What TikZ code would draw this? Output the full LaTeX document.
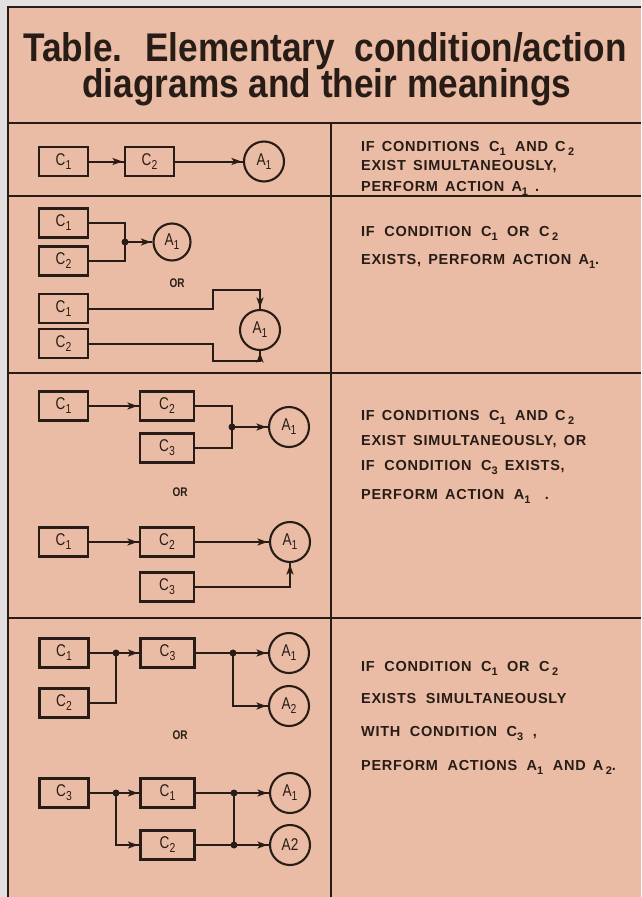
\documentclass[tikz,border=0pt]{standalone}
\usepackage{fontspec}
\setmainfont{Liberation Sans}
\newfontfamily\titlefont[FakeStretch=0.88]{Liberation Sans}
\newfontfamily\descfont[LetterSpace=5,WordSpace=1.5]{Liberation Sans}
\newfontfamily\labfont[FakeStretch=0.8]{Liberation Sans}
\usetikzlibrary{arrows.meta,decorations.markings}
\definecolor{peach}{RGB}{234,188,165}
\definecolor{ink}{RGB}{40,28,22}
\definecolor{paper}{RGB}{226,224,224}
\newcommand\bsub[1]{\raisebox{-4pt}{\fontsize{13}{13}\selectfont #1}}
\newcommand\dsub[1]{\raisebox{-4pt}{\fontsize{11}{11}\selectfont #1}}
\tikzset{
  cbox/.style={draw=ink, line width=2.1pt, minimum width=49pt, minimum height=29pt, inner sep=0pt, text=ink, font=\labfont\fontsize{17}{17}\selectfont},
  widebox/.style={cbox, minimum width=54pt},
  act/.style={circle, draw=ink, line width=2.1pt, minimum size=40pt, inner sep=0pt, text=ink, font=\labfont\fontsize{17}{17}\selectfont},
  wire/.style={draw=ink, line width=2pt},
  arr/.style={wire, postaction={decorate}, decoration={markings, mark=at position -1.5pt with {\arrow[ink]{Stealth[length=10pt,width=7pt,inset=2.5pt]}}}},
  jdot/.style={circle, fill=ink, inner sep=0pt, minimum size=7pt},
  rule/.style={draw=ink, line width=1.8pt},
  desc/.style={anchor=base west, inner sep=0pt, text=ink, font=\descfont\bfseries\fontsize{14.5}{14.5}\selectfont},
  orlab/.style={inner sep=0pt, text=ink, font=\labfont\bfseries\fontsize{12.5}{12.5}\selectfont},
  ttl/.style={anchor=base, inner sep=0pt, text=ink, font=\titlefont\bfseries\fontsize{40}{40}\selectfont}
}
\begin{document}
\begin{tikzpicture}[x=1pt,y=-1pt]
\useasboundingbox (0,0) rectangle (641,897);
\fill[paper] (0,0) rectangle (641,897);
\fill[peach] (8,7) rectangle (641,897);
% table rules
\draw[rule] (8,897) -- (8,7) -- (641,7);
\draw[rule] (8,123) -- (641,123);
\draw[rule] (331,123) -- (331,897);
\draw[rule] (8,196) -- (641,196);
\draw[rule] (8,373) -- (641,373);
\draw[rule] (8,618) -- (641,618);
% title
\node[ttl] (t1) at (325,61) {Table.~ Elementary~ condition/action};
\node[ttl] (t2) at (327,97) {diagrams and their meanings};

% ---------- row 1
\node[cbox] (r1c1) at (63.5,161.5) {C\bsub{1}};
\node[cbox] (r1c2) at (149.5,161.5) {C\bsub{2}};
\node[act] (r1a1) at (264,161.5) {A\bsub{1}};
\draw[arr] (r1c1) -- (r1c2);
\draw[arr] (r1c2) -- (r1a1);
\node[desc] (d11) at (361,151) {IF CONDITIONS\, C\dsub{1}\, AND C\,\dsub{2}};
\node[desc] (d12) at (361,170) {EXIST SIMULTANEOUSLY,};
\node[desc] (d13) at (361,191) {PERFORM ACTION A\dsub{1}~.};

% ---------- row 2
\node[cbox] (r2c1) at (63.5,223) {C\bsub{1}};
\node[cbox] (r2c2) at (63.5,261) {C\bsub{2}};
\node[jdot] (r2j) at (125,242) {};
\node[act, minimum size=37pt] (r2a1) at (172,242) {A\bsub{1}};
\draw[wire] (r2c1.east) -| (r2j.center);
\draw[wire] (r2c2.east) -| (r2j.center);
\draw[arr] (r2j.center) -- (r2a1);
\node[orlab] (or1) at (177,283) {OR};
\node[cbox] (r2d1) at (63.5,308.5) {C\bsub{1}};
\node[cbox] (r2d2) at (63.5,343.5) {C\bsub{2}};
\node[act] (r2b1) at (260,330) {A\bsub{1}};
\coordinate (k1) at (213,290);
\coordinate (k2) at (213,361);
\draw[arr] (r2d1.east) -| (k1) -| (r2b1.north);
\draw[arr] (r2d2.east) -| (k2) -| (r2b1.south);
\node[desc] (d21) at (361,236) {IF\, CONDITION\, C\dsub{1}\, OR\, C\,\dsub{2}};
\node[desc] (d22) at (361,264) {EXISTS, PERFORM ACTION A\dsub{1}.};

% ---------- row 3
\node[cbox] (r3c1) at (63.5,406) {C\bsub{1}};
\node[widebox] (r3c2) at (167,406) {C\bsub{2}};
\node[widebox] (r3c3) at (167,448) {C\bsub{3}};
\node[jdot] (r3j) at (232,427) {};
\node[act] (r3a1) at (289,427) {A\bsub{1}};
\draw[arr] (r3c1) -- (r3c2);
\draw[wire] (r3c2.east) -| (r3j.center);
\draw[wire] (r3c3.east) -| (r3j.center);
\draw[arr] (r3j.center) -- (r3a1);
\node[orlab] (or2) at (180,492) {OR};
\node[cbox] (r3d1) at (63.5,542) {C\bsub{1}};
\node[widebox] (r3d2) at (167,542) {C\bsub{2}};
\node[widebox] (r3d3) at (167,587) {C\bsub{3}};
\node[act] (r3b1) at (290,542) {A\bsub{1}};
\draw[arr] (r3d1) -- (r3d2);
\draw[arr] (r3d2) -- (r3b1);
\draw[arr] (r3d3.east) -| (r3b1.south);
\node[desc] (d31) at (361,420) {IF CONDITIONS\, C\dsub{1}\, AND C\,\dsub{2}};
\node[desc] (d32) at (361,445) {EXIST SIMULTANEOUSLY, OR};
\node[desc] (d33) at (361,470) {IF\, CONDITION\, C\dsub{3} EXISTS,};
\node[desc] (d34) at (361,499) {PERFORM ACTION\, A\dsub{1}~~.};

% ---------- row 4
\node[cbox] (r4c1) at (64,653) {C\bsub{1}};
\node[cbox] (r4c2) at (64,703) {C\bsub{2}};
\node[jdot] (r4j1) at (116,653) {};
\node[widebox] (r4c3) at (167.5,653) {C\bsub{3}};
\node[jdot] (r4j2) at (233,653) {};
\node[act] (r4a1) at (289,653) {A\bsub{1}};
\node[act] (r4a2) at (289,706) {A\bsub{2}};
\draw[wire] (r4c1.east) -- (r4j1.center);
\draw[wire] (r4c2.east) -| (r4j1.center);
\draw[arr] (r4j1.center) -- (r4c3);
\draw[wire] (r4c3.east) -- (r4j2.center);
\draw[arr] (r4j2.center) -- (r4a1);
\draw[arr] (r4j2.center) |- (r4a2.west);
\node[orlab] (or3) at (180,735) {OR};
\node[cbox] (r4d3) at (64,793) {C\bsub{3}};
\node[jdot] (r4j3) at (116,793) {};
\node[widebox] (r4d1) at (167.5,793) {C\bsub{1}};
\node[widebox] (r4d2) at (167.5,845) {C\bsub{2}};
\node[jdot] (r4j4) at (234,793) {};
\node[jdot] (r4j5) at (234,845) {};
\node[act] (r4b1) at (290,793) {A\bsub{1}};
\node[act] (r4b2) at (290,845) {A2};
\draw[wire] (r4d3.east) -- (r4j3.center);
\draw[arr] (r4j3.center) -- (r4d1);
\draw[arr] (r4j3.center) |- (r4d2.west);
\draw[wire] (r4d1.east) -- (r4j4.center);
\draw[wire] (r4d2.east) -- (r4j5.center);
\draw[wire] (r4j4.center) -- (r4j5.center);
\draw[arr] (r4j4.center) -- (r4b1);
\draw[arr] (r4j5.center) -- (r4b2);
\node[desc] (d41) at (361,671) {IF\, CONDITION\, C\dsub{1}\, OR\, C\,\dsub{2}};
\node[desc] (d42) at (361,703) {EXISTS\, SIMULTANEOUSLY};
\node[desc] (d43) at (361,736) {WITH\, CONDITION\, C\dsub{3}\, ,};
\node[desc] (d44) at (361,770) {PERFORM\, ACTIONS\, A\dsub{1}\, AND A\,\dsub{2}.};
\end{tikzpicture}
\end{document}
